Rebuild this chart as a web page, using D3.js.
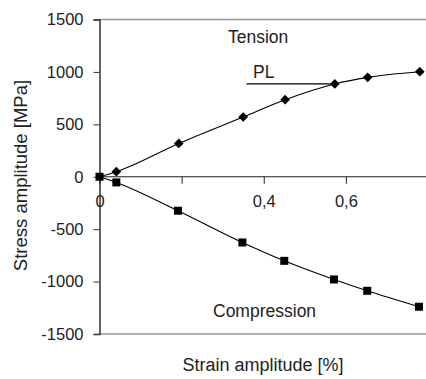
<!DOCTYPE html>
<html><head><meta charset="utf-8">
<script src="https://cdn.jsdelivr.net/npm/d3@7"></script>
<style>body{margin:0;background:#fff}svg{display:block}text{font-family:"Liberation Sans",Arial,sans-serif;fill:#222}</style>
</head><body><div id="c"></div>
<script>
const tensionStrain = [0, 0.041, 0.193, 0.35, 0.452, 0.573, 0.653, 0.78];
const tensionStress = [0, 48, 318, 570, 735, 885, 948, 1002];
const compStrain = [0, 0.041, 0.191, 0.348, 0.45, 0.571, 0.652, 0.778];
const compStress = [0, -54, -324, -627, -802, -980, -1088, -1240];
const xTicks = [0, 0.2, 0.4, 0.6];
const xTickLabels = ["0", "", "0,4", "0,6"];
const yTicks = [-1500, -1000, -500, 0, 500, 1000, 1500];
const yTickLabels = ["-1500", "-1000", "-500", "0", "500", "1000", "1500"];
const plValue = 885;
const plStrainStart = 0.358;

const W = 426, H = 379;
const svg = d3.select("#c").append("svg").attr("width", W).attr("height", H);
const x = d3.scaleLinear().domain([0, 0.8]).range([99.5, 428]);
const y = d3.scaleLinear().domain([-1500, 1500]).range([334, 19.5]);

svg.append("line").attr("x1", x(0)).attr("x2", W).attr("y1", y(1500)).attr("y2", y(1500)).attr("stroke", "#999").attr("stroke-width", 1.5);
svg.append("line").attr("x1", x(0)).attr("x2", W).attr("y1", y(-1500)).attr("y2", y(-1500)).attr("stroke", "#999").attr("stroke-width", 1.5);

const ya = svg.append("g").attr("transform", `translate(${x(0)},0)`)
  .call(d3.axisLeft(y).tickValues(yTicks).tickSize(6).tickPadding(10).tickFormat((d, i) => yTickLabels[i]));
ya.select(".domain").attr("stroke", "#333").attr("stroke-width", 1.5);
ya.selectAll(".tick line").attr("stroke", "#333");
ya.selectAll("text").attr("font-size", 16.5).attr("fill", "#222").attr("font-family", '"Liberation Sans",Arial,sans-serif');

const xa = svg.append("g").attr("transform", `translate(0,${y(0)})`)
  .call(d3.axisBottom(x).tickValues(xTicks).tickSize(7).tickPadding(12).tickFormat((d, i) => xTickLabels[i]));
xa.select(".domain").attr("stroke", "#222").attr("stroke-width", 1.2).attr("d", `M${x(0)},0H${W}`);
xa.selectAll(".tick line").attr("stroke", "#222");
xa.selectAll("text").attr("font-size", 16.5).attr("fill", "#222").attr("font-family", '"Liberation Sans",Arial,sans-serif');

const line = d3.line().x(d => x(d[0])).y(d => y(d[1])).curve(d3.curveMonotoneX);
const tData = tensionStrain.map((s, i) => [s, tensionStress[i]]);
const cData = compStrain.map((s, i) => [s, compStress[i]]);

svg.append("path").attr("d", line(tData)).attr("fill", "none").attr("stroke", "#000").attr("stroke-width", 1.1);
svg.append("path").attr("d", line(cData)).attr("fill", "none").attr("stroke", "#000").attr("stroke-width", 1.1);

svg.append("line").attr("x1", x(plStrainStart)).attr("x2", x(tensionStrain[5])).attr("y1", y(plValue)).attr("y2", y(plValue)).attr("stroke", "#000").attr("stroke-width", 1.2);

svg.selectAll(".dia").data(tData.slice(1)).enter().append("path")
  .attr("d", d3.symbol().type(d3.symbolDiamond2).size(60))
  .attr("transform", d => `translate(${x(d[0])},${y(d[1])})`).attr("fill", "#000");
svg.selectAll(".sq").data(cData).enter().append("rect")
  .attr("x", d => x(d[0]) - 4).attr("y", d => y(d[1]) - 4).attr("width", 8).attr("height", 8).attr("fill", "#000");

svg.append("text").attr("x", 228).attr("y", 43).attr("font-size", 17.5).text("Tension");
svg.append("text").attr("x", 253).attr("y", 78).attr("font-size", 17.5).text("PL");
svg.append("text").attr("x", 213).attr("y", 317).attr("font-size", 17.5).text("Compression");
svg.append("text").attr("x", 263).attr("y", 371).attr("text-anchor", "middle").attr("font-size", 18).text("Strain amplitude [%]");
svg.append("text").attr("transform", "translate(27,175.5) rotate(-90)").attr("text-anchor", "middle").attr("font-size", 18.5).text("Stress amplitude [MPa]");
</script></body></html>
